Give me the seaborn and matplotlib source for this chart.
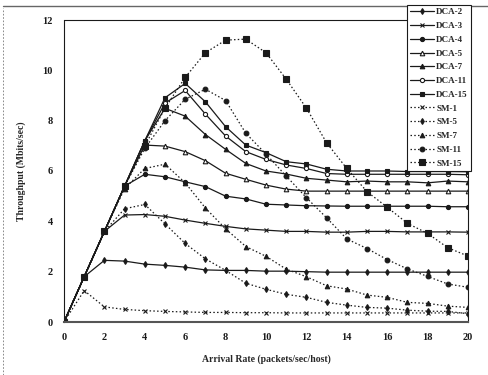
import numpy as np
import pandas as pd
import matplotlib
matplotlib.use("Agg")
import matplotlib.pyplot as plt
from matplotlib.lines import Line2D
import seaborn as sns

arrival = list(range(0, 21))

dca_2 = [0, 1.8, 2.45, 2.42, 2.3, 2.25, 2.18, 2.07, 2.05, 2.05, 2.02, 2.02, 2.0, 1.98, 1.98, 1.98, 1.98, 1.98, 1.98, 1.98, 1.98]
dca_3 = [0, 1.8, 3.6, 4.25, 4.27, 4.2, 4.05, 3.92, 3.8, 3.7, 3.65, 3.6, 3.6, 3.57, 3.57, 3.6, 3.6, 3.58, 3.58, 3.58, 3.57]
dca_4 = [0, 1.8, 3.6, 5.4, 5.87, 5.77, 5.57, 5.38, 5.0, 4.89, 4.68, 4.65, 4.62, 4.61, 4.6, 4.6, 4.6, 4.6, 4.6, 4.58, 4.58]
dca_5 = [0, 1.8, 3.6, 5.4, 7.03, 6.99, 6.77, 6.41, 5.91, 5.67, 5.44, 5.28, 5.2, 5.2, 5.2, 5.2, 5.2, 5.2, 5.2, 5.2, 5.2]
dca_7 = [0, 1.8, 3.6, 5.4, 7.2, 8.49, 8.18, 7.45, 6.86, 6.3, 6.0, 5.88, 5.71, 5.64, 5.57, 5.6, 5.57, 5.57, 5.53, 5.6, 5.57]
dca_11 = [0, 1.8, 3.6, 5.4, 7.2, 8.7, 9.2, 8.26, 7.39, 6.77, 6.46, 6.24, 6.1, 5.9, 5.87, 5.87, 5.87, 5.87, 5.87, 5.87, 5.85]
dca_15 = [0, 1.8, 3.6, 5.4, 7.2, 8.91, 9.48, 8.75, 7.76, 7.03, 6.73, 6.37, 6.28, 6.07, 6.0, 6.0, 6.0, 5.98, 5.98, 5.98, 5.97]
sm_1 = [0, 1.25, 0.6, 0.5, 0.45, 0.42, 0.4, 0.38, 0.38, 0.37, 0.37, 0.36, 0.36, 0.36, 0.36, 0.36, 0.36, 0.36, 0.36, 0.36, 0.36]
sm_5 = [0, 1.8, 3.6, 4.5, 4.67, 3.9, 3.12, 2.51, 2.05, 1.54, 1.3, 1.1, 0.98, 0.78, 0.67, 0.58, 0.55, 0.47, 0.43, 0.42, 0.33]
sm_7 = [0, 1.8, 3.6, 5.3, 6.1, 6.27, 5.53, 4.53, 3.7, 3.0, 2.61, 2.1, 1.8, 1.44, 1.31, 1.07, 0.98, 0.78, 0.74, 0.63, 0.58]
sm_11 = [0, 1.8, 3.6, 5.4, 6.9, 8.0, 8.85, 9.25, 8.8, 7.5, 6.67, 5.8, 4.94, 4.14, 3.3, 2.92, 2.48, 2.11, 1.81, 1.51, 1.38]
sm_15 = [0, 1.8, 3.6, 5.4, 7.0, 8.5, 9.72, 10.7, 11.2, 11.24, 10.7, 9.65, 8.5, 7.12, 6.1, 5.18, 4.56, 3.92, 3.52, 2.95, 2.62]

series_names = ["DCA-2", "DCA-3", "DCA-4", "DCA-5", "DCA-7", "DCA-11", "DCA-15",
                "SM-1", "SM-5", "SM-7", "SM-11", "SM-15"]
series_values = [dca_2, dca_3, dca_4, dca_5, dca_7, dca_11, dca_15,
                 sm_1, sm_5, sm_7, sm_11, sm_15]

x_ticks = [0, 2, 4, 6, 8, 10, 12, 14, 16, 18, 20]
y_ticks = [0, 2, 4, 6, 8, 10, 12]

dot = (0, (1.2, 1.8))
styles = {
    "DCA-2": dict(marker="d", ms=3.0, mfc="k", ls="-"),
    "DCA-3": dict(marker="x", ms=3.0, mfc="k", ls="-"),
    "DCA-4": dict(marker="o", ms=3.0, mfc="k", ls="-"),
    "DCA-5": dict(marker="^", ms=3.3, mfc="white", ls="-"),
    "DCA-7": dict(marker="^", ms=3.3, mfc="k", ls="-"),
    "DCA-11": dict(marker="o", ms=3.0, mfc="white", ls="-"),
    "DCA-15": dict(marker="s", ms=3.4, mfc="k", ls="-"),
    "SM-1": dict(marker="x", ms=3.0, mfc="k", ls=dot),
    "SM-5": dict(marker="d", ms=3.0, mfc="k", ls=dot),
    "SM-7": dict(marker="^", ms=3.3, mfc="k", ls=dot),
    "SM-11": dict(marker="o", ms=3.4, mfc="k", ls=dot),
    "SM-15": dict(marker="s", ms=4.0, mfc="k", ls=dot),
}

rows = []
for name, vals in zip(series_names, series_values):
    for xv, yv in zip(arrival, vals):
        rows.append({"series": name, "x": xv, "y": yv})
df = pd.DataFrame(rows)

sns.set_theme(style="white")
plt.rcParams["font.family"] = ["Liberation Serif", "DejaVu Serif"]
plt.rcParams["font.weight"] = "bold"

fig = plt.figure(figsize=(4.88, 3.75), dpi=100)
ax = fig.add_axes([64 / 488, 1 - 322 / 375, 404 / 488, 302 / 375])

handles = []
for name in series_names:
    st = styles[name]
    sub = df[df["series"] == name]
    sns.lineplot(data=sub, x="x", y="y", ax=ax, color="k", linewidth=0.9,
                 marker=st["marker"], markersize=st["ms"], markerfacecolor=st["mfc"],
                 markeredgecolor="k", markeredgewidth=0.8, linestyle=st["ls"],
                 legend=False, errorbar=None)
    handles.append(Line2D([], [], color="k", linewidth=0.9, marker=st["marker"],
                          markersize=st["ms"], markerfacecolor=st["mfc"],
                          markeredgecolor="k", markeredgewidth=0.8, linestyle=st["ls"]))

ax.set_xlim(0, 20)
ax.set_ylim(0, 12)
ax.set_xticks(x_ticks)
ax.set_yticks(y_ticks)
ax.tick_params(direction="in", length=3, width=0.8, labelsize=7.5, pad=8, colors="k")
for lab in ax.get_xticklabels() + ax.get_yticklabels():
    lab.set_fontweight("bold")
ax.set_xlabel("Arrival Rate (packets/sec/host)", fontsize=7, fontweight="bold", labelpad=9)
ax.set_ylabel("Throughput (Mbits/sec)", fontsize=7, fontweight="bold", labelpad=12)

for side in ["left", "top", "right"]:
    ax.spines[side].set_linestyle((0, (1, 1)))
    ax.spines[side].set_color("k")
    ax.spines[side].set_linewidth(0.8)
ax.spines["bottom"].set_color("#555555")
ax.spines["bottom"].set_linewidth(1.5)

leg = fig.legend(handles, series_names, loc="upper right",
                 bbox_to_anchor=(471 / 488, 1 - 5 / 375), frameon=True,
                 handlelength=2.6, handletextpad=0.3,
                 labelspacing=0.6, borderpad=0.35, borderaxespad=0.0,
                 fancybox=False, prop={"weight": "bold", "size": 6.5})
leg.get_frame().set_edgecolor("k")
leg.get_frame().set_linewidth(0.8)
leg.get_frame().set_facecolor("white")
leg.get_frame().set_alpha(1.0)

fig.add_artist(Line2D([3 / 488, 3 / 488], [0, 1 - 8 / 375], transform=fig.transFigure,
                      color="#777777", linewidth=0.6, linestyle=(0, (2, 2))))
fig.add_artist(Line2D([3 / 488, 1], [1 - 6 / 375, 1 - 6 / 375], transform=fig.transFigure,
                      color="#666666", linewidth=1.0))

fig.savefig("out.png", dpi=100)
